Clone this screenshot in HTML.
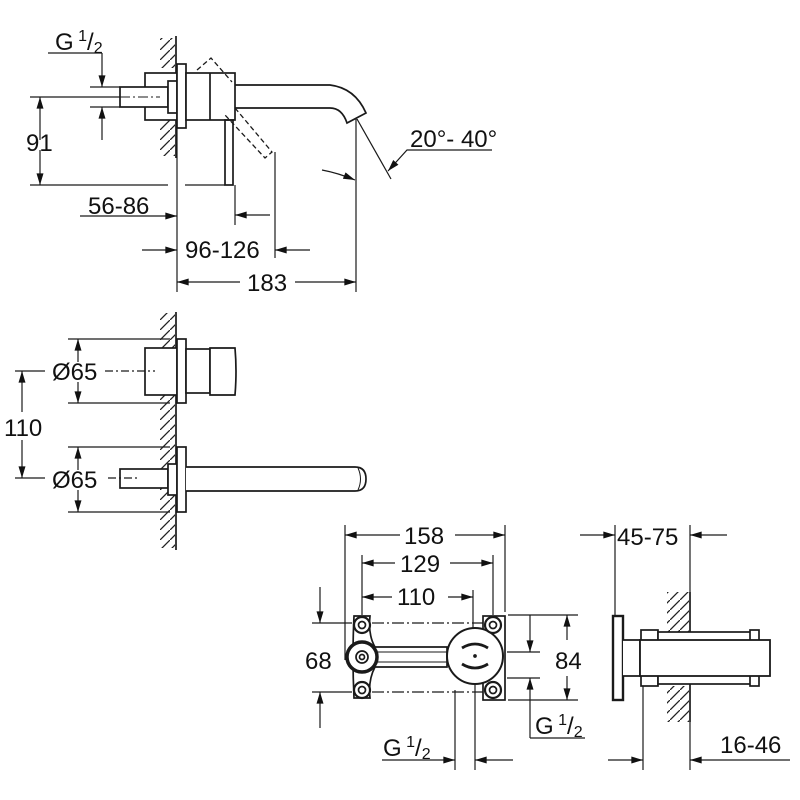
<!DOCTYPE html>
<html><head><meta charset="utf-8"><style>
html,body{margin:0;padding:0;background:#fff}
svg{display:block}
text{font-family:"Liberation Sans",sans-serif;font-size:24px;fill:#111}
</style></head><body>
<svg width="800" height="800" viewBox="0 0 800 800" xmlns="http://www.w3.org/2000/svg">
<defs>
<marker id="a" viewBox="0 0 10 6" refX="10" refY="3" markerWidth="16" markerHeight="7" markerUnits="userSpaceOnUse" orient="auto"><path d="M0,0 L10,3 L0,6 Z" fill="#111"/></marker>
<pattern id="h" width="10" height="10" patternUnits="userSpaceOnUse"><path d="M0,10 L10,0" stroke="#222" stroke-width="1.3"/></pattern>
</defs>
<g fill="none" stroke="#1a1a1a" stroke-width="1.7">
<!-- ===== TOP VIEW ===== -->
<rect x="160" y="38" width="15" height="30" fill="url(#h)" stroke="none"/>
<rect x="160" y="118" width="15" height="38" fill="url(#h)" stroke="none"/>
<line x1="176" y1="36" x2="176" y2="158"/>
<rect x="145" y="73" width="32" height="47" fill="#fff"/>
<rect x="120" y="87" width="48" height="20" fill="#fff"/>
<rect x="168" y="81" width="9" height="32" fill="#fff"/>
<rect x="177" y="64" width="9" height="64" fill="#fff"/>
<rect x="186" y="73" width="49" height="47" fill="#fff"/>
<line x1="210" y1="73" x2="210" y2="120"/>
<path d="M235,85 L330,85 Q355,88 366,113 L347,123 Q342,108 330,108 L235,108"/>
<rect x="225" y="120" width="8" height="65"/>
<path d="M197,70 L211,58 L232,82 M235,108 L272,152 L265,158 L225,115" stroke-dasharray="5,3" stroke-width="1.3"/>
<line x1="120" y1="97" x2="160" y2="97" stroke-dasharray="10,3,2,3" stroke-width="1"/>
<!-- dims top -->
<g stroke-width="1.2">
<line x1="30" y1="97" x2="120" y2="97"/>
<line x1="30" y1="185" x2="168" y2="185"/>
<line x1="185" y1="185" x2="225" y2="185"/>
<line x1="40" y1="140" x2="40" y2="97" marker-end="url(#a)"/>
<line x1="40" y1="150" x2="40" y2="185" marker-end="url(#a)"/>
<line x1="48" y1="53" x2="102" y2="53"/>
<line x1="102" y1="53" x2="102" y2="87" marker-end="url(#a)"/>
<line x1="102" y1="140" x2="102" y2="107" marker-end="url(#a)"/>
<line x1="90" y1="87" x2="120" y2="87"/>
<line x1="90" y1="107" x2="120" y2="107"/>
<line x1="80" y1="216" x2="177" y2="216" marker-end="url(#a)"/>
<line x1="177" y1="128" x2="177" y2="292"/>
<line x1="235" y1="185" x2="235" y2="225"/>
<line x1="270" y1="215" x2="235" y2="215" marker-end="url(#a)"/>
<line x1="275" y1="152" x2="275" y2="258"/>
<line x1="142" y1="250" x2="177" y2="250" marker-end="url(#a)"/>
<line x1="310" y1="250" x2="275" y2="250" marker-end="url(#a)"/>
<line x1="356" y1="118" x2="356" y2="292"/>
<line x1="240" y1="282" x2="177" y2="282" marker-end="url(#a)"/>
<line x1="295" y1="282" x2="356" y2="282" marker-end="url(#a)"/>
<line x1="357" y1="119" x2="391" y2="179"/>
<path d="M492,150 L407,150 L388,171" marker-end="url(#a)"/>
<path d="M322,170 Q338,173 355,180" marker-end="url(#a)"/>
</g>
<!-- ===== MIDDLE VIEW ===== -->
<rect x="160" y="313" width="15" height="235" fill="url(#h)" stroke="none"/>
<line x1="176" y1="312" x2="176" y2="550"/>
<rect x="145" y="348" width="32" height="47" fill="#fff"/>
<rect x="177" y="339" width="9" height="64" fill="#fff"/>
<rect x="186" y="349" width="24" height="44" fill="#fff"/>
<path d="M210,348 L235,348 Q237,371 235,395 L210,395 Z" fill="#fff"/>
<rect x="120" y="469" width="48" height="19" fill="#fff"/>
<rect x="168" y="464" width="9" height="31" fill="#fff"/>
<rect x="177" y="447" width="9" height="65" fill="#fff"/>
<path d="M186,467 L355,467 Q366,467 366,479 Q366,491 355,491 L186,491" fill="#fff"/>
<path d="M358,468 Q363,479 358,490" stroke-width="1"/>
<g stroke-width="1.2">
<line x1="68" y1="339" x2="170" y2="339"/>
<line x1="68" y1="403" x2="170" y2="403"/>
<line x1="68" y1="447" x2="170" y2="447"/>
<line x1="68" y1="512" x2="170" y2="512"/>
<line x1="78" y1="362" x2="78" y2="339" marker-end="url(#a)"/>
<line x1="78" y1="382" x2="78" y2="403" marker-end="url(#a)"/>
<line x1="78" y1="470" x2="78" y2="447" marker-end="url(#a)"/>
<line x1="78" y1="490" x2="78" y2="512" marker-end="url(#a)"/>
<line x1="15" y1="371" x2="45" y2="371"/>
<line x1="105" y1="371" x2="155" y2="371" stroke-dasharray="8,3,2,3"/>
<line x1="15" y1="478" x2="45" y2="478"/>
<line x1="108" y1="478" x2="137" y2="478" stroke-dasharray="8,3,2,3"/>
<line x1="22" y1="412" x2="22" y2="371" marker-end="url(#a)"/>
<line x1="22" y1="440" x2="22" y2="478" marker-end="url(#a)"/>
</g>
<!-- ===== FRONT INSTALL VIEW ===== -->
<g stroke-width="1.2">
<line x1="345" y1="525" x2="345" y2="660"/>
<line x1="505" y1="525" x2="505" y2="612"/>
<line x1="362" y1="555" x2="362" y2="615"/>
<line x1="493" y1="555" x2="493" y2="615"/>
<line x1="473" y1="590" x2="473" y2="656"/>
<line x1="400" y1="535" x2="345" y2="535" marker-end="url(#a)"/>
<line x1="455" y1="535" x2="505" y2="535" marker-end="url(#a)"/>
<line x1="395" y1="563" x2="362" y2="563" marker-end="url(#a)"/>
<line x1="450" y1="563" x2="493" y2="563" marker-end="url(#a)"/>
<line x1="392" y1="597" x2="362" y2="597" marker-end="url(#a)"/>
<line x1="448" y1="597" x2="473" y2="597" marker-end="url(#a)"/>
<line x1="312" y1="623" x2="352" y2="623"/>
<line x1="312" y1="692" x2="352" y2="692"/>
<line x1="372" y1="623" x2="485" y2="623" stroke-dasharray="12,3,2,3"/>
<line x1="372" y1="692" x2="485" y2="692" stroke-dasharray="12,3,2,3"/>
<line x1="320" y1="587" x2="320" y2="623" marker-end="url(#a)"/>
<line x1="320" y1="728" x2="320" y2="692" marker-end="url(#a)"/>
<line x1="508" y1="615" x2="578" y2="615"/>
<line x1="508" y1="700" x2="578" y2="700"/>
<line x1="507" y1="652" x2="540" y2="652"/>
<line x1="507" y1="678" x2="540" y2="678"/>
<line x1="530" y1="615" x2="530" y2="652" marker-end="url(#a)"/>
<line x1="530" y1="738" x2="530" y2="678" marker-end="url(#a)"/>
<line x1="530" y1="738" x2="585" y2="738"/>
<line x1="567" y1="640" x2="567" y2="615" marker-end="url(#a)"/>
<line x1="567" y1="676" x2="567" y2="700" marker-end="url(#a)"/>
<line x1="455" y1="690" x2="455" y2="770"/>
<line x1="475" y1="684" x2="475" y2="770"/>
<line x1="382" y1="760" x2="455" y2="760" marker-end="url(#a)"/>
<line x1="513" y1="760" x2="475" y2="760" marker-end="url(#a)"/>
</g>
<path d="M354,616 Q352,657 354,698 L370,698 Q368,680 375,667 L447,667 L447,647 L375,647 Q368,635 370,616 Z" fill="#fff"/>
<line x1="375" y1="652" x2="447" y2="652" stroke-width="1"/>
<line x1="375" y1="662" x2="447" y2="662" stroke-width="1"/>
<rect x="483" y="616" width="22" height="84" fill="#fff"/>
<circle cx="362" cy="657" r="15" fill="#fff" stroke-width="3.5"/>
<circle cx="362" cy="657" r="6"/><circle cx="362" cy="657" r="2.5"/>
<circle cx="475" cy="656" r="28" fill="#fff" stroke-width="2"/>
<path d="M462,648 Q475,640 488,648" stroke-width="2.8"/>
<path d="M462,664 Q475,672 488,664" stroke-width="2.8"/>
<circle cx="475" cy="656" r="1" fill="#111"/>
<g fill="#fff">
<circle cx="362" cy="625" r="8" stroke-width="2.2"/><circle cx="362" cy="625" r="3.5"/>
<circle cx="362" cy="690" r="8" stroke-width="2.2"/><circle cx="362" cy="690" r="3.5"/>
<circle cx="493" cy="625" r="8" stroke-width="2.2"/><circle cx="493" cy="625" r="3.5"/>
<circle cx="493" cy="690" r="8" stroke-width="2.2"/><circle cx="493" cy="690" r="3.5"/>
</g>
<!-- ===== SIDE VIEW ===== -->
<rect x="667" y="592" width="22" height="40" fill="url(#h)" stroke="none"/>
<rect x="667" y="686" width="22" height="36" fill="url(#h)" stroke="none"/>
<line x1="690" y1="592" x2="690" y2="722"/>
<g stroke-width="1.2">
<line x1="615" y1="525" x2="615" y2="616"/>
<line x1="690" y1="525" x2="690" y2="592"/>
<line x1="580" y1="535" x2="615" y2="535" marker-end="url(#a)"/>
<line x1="727" y1="535" x2="690" y2="535" marker-end="url(#a)"/>
<line x1="643" y1="680" x2="643" y2="770"/>
<line x1="690" y1="722" x2="690" y2="770"/>
<line x1="608" y1="760" x2="643" y2="760" marker-end="url(#a)"/>
<line x1="790" y1="760" x2="690" y2="760" marker-end="url(#a)"/>
</g>
<rect x="613" y="616" width="10" height="84" fill="#fff" stroke-width="2.4"/>
<path d="M623,640 L640,640 L640,676 L623,676" fill="#fff"/>
<rect x="641" y="630" width="17" height="56" fill="#fff"/>
<rect x="658" y="632" width="100" height="52" fill="#fff"/>
<rect x="750" y="630" width="9" height="56" fill="#fff"/>
<rect x="640" y="640" width="130" height="36" fill="#fff" stroke-width="1.8"/>
</g>
<!-- TEXT -->
<text x="55" y="50">G<tspan font-size="16" dy="-9"> 1</tspan><tspan dy="9">/</tspan><tspan font-size="16" dy="3">2</tspan></text>
<text x="26" y="151">91</text>
<text x="88" y="214">56-86</text>
<text x="185" y="258">96-126</text>
<text x="247" y="291">183</text>
<text x="410" y="147">20°- 40°</text>
<text x="52" y="380">Ø65</text>
<text x="4" y="436">110</text>
<text x="52" y="488">Ø65</text>
<text x="404" y="544">158</text>
<text x="400" y="572">129</text>
<text x="397" y="605">110</text>
<text x="305" y="669">68</text>
<text x="555" y="669">84</text>
<text x="535" y="734">G<tspan font-size="16" dy="-9"> 1</tspan><tspan dy="9">/</tspan><tspan font-size="16" dy="3">2</tspan></text>
<text x="383" y="756">G<tspan font-size="16" dy="-9"> 1</tspan><tspan dy="9">/</tspan><tspan font-size="16" dy="3">2</tspan></text>
<text x="617" y="545">45-75</text>
<text x="720" y="753">16-46</text>
</svg>
</body></html>
